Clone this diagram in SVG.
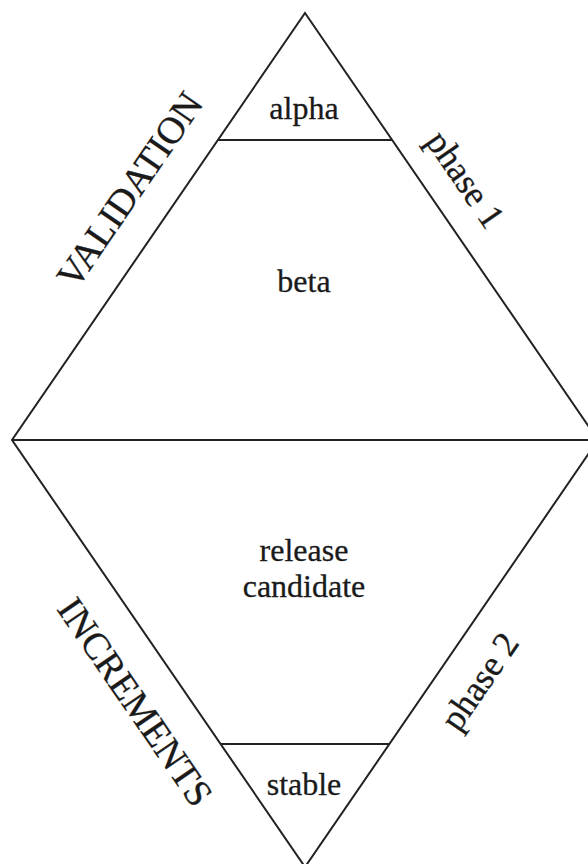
<svg xmlns="http://www.w3.org/2000/svg" width="588" height="864" viewBox="0 0 588 864">
<style>
.ln{fill:none;stroke:#222;stroke-width:2;stroke-linejoin:miter}
.t{font-family:"Liberation Serif","Times New Roman",serif;font-size:32px;fill:#1a1a1a;stroke:#1a1a1a;stroke-width:0.3;text-anchor:middle}
.cap{font-size:38px}
.ph{font-size:36px}
</style>
<rect width="588" height="864" fill="#fff"/>
<g id="connectors">
<polygon class="ln" points="305,13 598,440 305,867 12,440"/>
<line class="ln" x1="12" y1="440" x2="598" y2="440"/>
<line class="ln" x1="218" y1="140" x2="392" y2="140"/>
<line class="ln" x1="220.6" y1="744" x2="389.4" y2="744"/>
</g>
<g id="alpha"><text class="t" x="304" y="119">alpha</text></g>
<g id="beta"><text class="t" x="304" y="292">beta</text></g>
<g id="rc"><text class="t" x="304" y="561">release</text><text class="t" x="304" y="597">candidate</text></g>
<g id="stable"><text class="t" x="304" y="795">stable</text></g>
<g id="validation"><text class="t cap" transform="translate(140.3,197.1) rotate(-55.5)">VALIDATION</text></g>
<g id="phase1"><text class="t ph" transform="translate(455.6,186.1) rotate(55.5)">phase 1</text></g>
<g id="increments"><text class="t cap" transform="translate(124.7,709.1) rotate(55.5)">INCREMENTS</text></g>
<g id="phase2"><text class="t ph" transform="translate(489.4,688.1) rotate(-55.5)">phase 2</text></g>
</svg>
